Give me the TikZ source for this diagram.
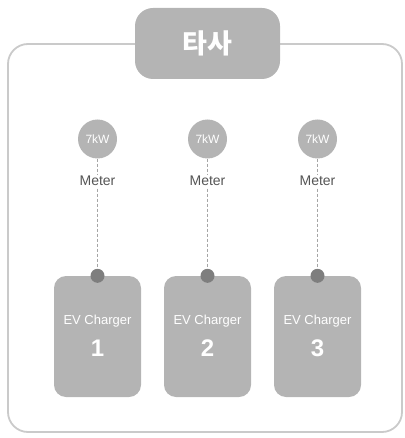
\documentclass[tikz,border=0pt]{standalone}
\usepackage{fontspec}
\setmainfont{Liberation Sans}
\newfontfamily\krfont{Noto Sans CJK KR}
\usetikzlibrary{positioning}

\definecolor{boxgray}{HTML}{B4B4B4}
\definecolor{framegray}{HTML}{CACACA}
\definecolor{dotgray}{HTML}{7E7E7E}
\definecolor{textgray}{HTML}{555555}

\begin{document}
\begin{tikzpicture}[x=1pt,y=-1pt,
    meter/.style={circle,fill=boxgray,minimum size=39pt,inner sep=0pt,
      text=white,font=\fontsize{12}{13}\selectfont},
    label/.style={fill=white,text=textgray,font=\fontsize{14}{15}\selectfont,inner sep=1pt},
    charger/.style={rounded corners=12pt,fill=boxgray,minimum width=87pt,
      minimum height=121pt,inner sep=0pt,text=white,align=center},
    dot/.style={circle,fill=dotgray,minimum size=14pt,inner sep=0pt},
    wire/.style={dotgray!70,dash pattern=on 3pt off 2pt,line width=0.6pt}]
  \useasboundingbox (0,0) rectangle (404,438);

  % frame and title
  \draw[framegray,line width=1.8pt,rounded corners=20pt] (8,44) rectangle (402,432);
  \node[rounded corners=18pt,fill=boxgray,minimum width=145pt,minimum height=71pt,
    text=white,font=\krfont\bfseries\fontsize{27}{29}\selectfont] (title) at (207.5,43.5) {타사};

  % meters
  \node[meter] (m1) at (97.5,139) {7kW};
  \node[meter] (m2) at (207.5,139) {7kW};
  \node[meter] (m3) at (317.5,139) {7kW};

  % chargers
  \node[charger] (c1) at (97.5,336.5) {};
  \node[charger] (c2) at (207.5,336.5) {};
  \node[charger] (c3) at (317.5,336.5) {};
  \node[text=white,font=\fontsize{13}{14}\selectfont] (t1) at (97.5,321) {EV Charger};
  \node[text=white,font=\fontsize{13}{14}\selectfont] (t2) at (207.5,321) {EV Charger};
  \node[text=white,font=\fontsize{13}{14}\selectfont] (t3) at (317.5,321) {EV Charger};
  \node[text=white,font=\bfseries\fontsize{24}{26}\selectfont] (n1) at (97.5,348) {1};
  \node[text=white,font=\bfseries\fontsize{24}{26}\selectfont] (n2) at (207.5,348) {2};
  \node[text=white,font=\bfseries\fontsize{24}{26}\selectfont] (n3) at (317.5,348) {3};

  % wires
  \node[dot] (d1) at (c1.north) {};
  \node[dot] (d2) at (c2.north) {};
  \node[dot] (d3) at (c3.north) {};
  \draw[wire] (m1.south) -- (d1.north);
  \draw[wire] (m2.south) -- (d2.north);
  \draw[wire] (m3.south) -- (d3.north);

  % labels
  \node[label] (l1) at (97.5,181) {Meter};
  \node[label] (l2) at (207.5,181) {Meter};
  \node[label] (l3) at (317.5,181) {Meter};
\end{tikzpicture}
\end{document}
